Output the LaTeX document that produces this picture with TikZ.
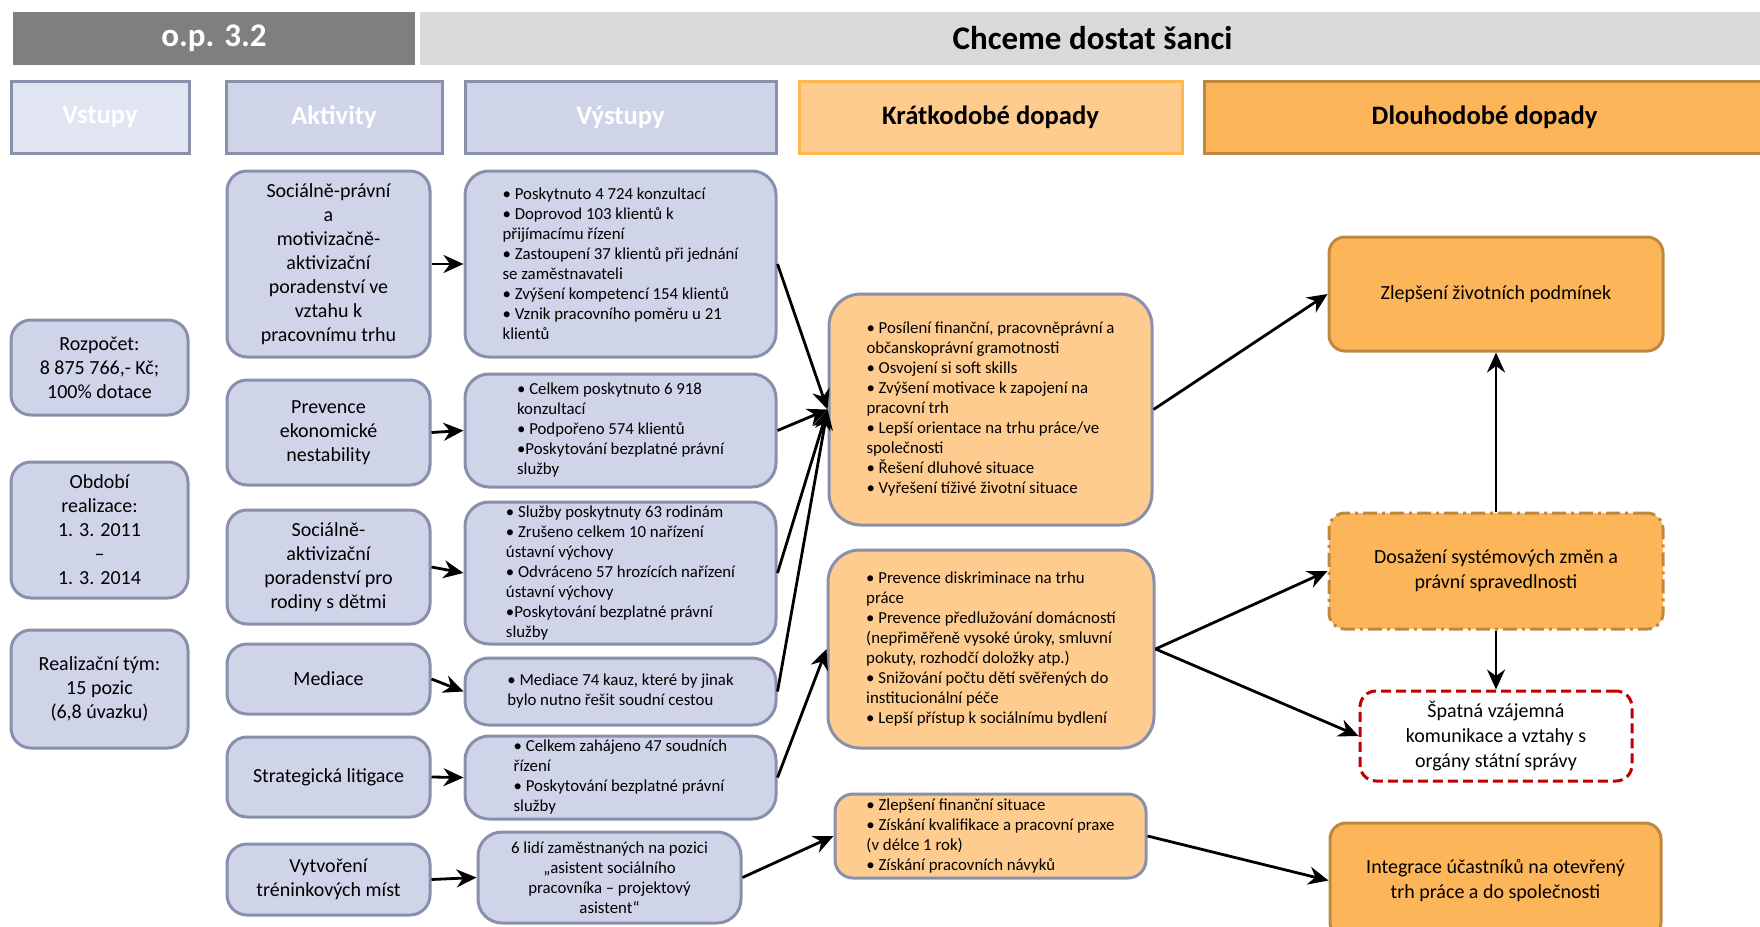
\documentclass[tikz,border=0pt]{standalone}
\usepackage{fontspec}
\setmainfont{Carlito}
\usepackage{xcolor}
\definecolor{plan-dark}{HTML}{7F7F7F}
\definecolor{plan-light}{HTML}{D9D9D9}
\definecolor{plan-blue}{HTML}{CFD4E9}
\definecolor{plan-paleblue}{HTML}{E1E4F1}
\definecolor{plan-edge}{HTML}{8990AB}
\definecolor{plan-peach}{HTML}{FFCC8F}
\definecolor{plan-peachedge}{HTML}{FFB850}
\definecolor{plan-orange}{HTML}{FDB55A}
\definecolor{plan-brown}{HTML}{C0873F}
\definecolor{plan-red}{HTML}{C00000}
\usepackage{tikz}
\usetikzlibrary{arrows.meta}

\tikzset{
    bar/.style={inner sep=0pt, minimum height=26.5pt, font=\fontsize{16.5}{20}\selectfont\bfseries},
    headbox/.style={draw, line width=1.5pt, inner sep=0pt, minimum height=36pt, font=\fontsize{13.3}{16}\selectfont\bfseries},
    inbox/.style={draw=plan-edge, fill=plan-blue, line width=1.5pt, rounded corners=10pt, align=center, inner sep=0pt, font=\fontsize{10}{12}\selectfont},
    listbox/.style={inbox, align=left, rounded corners=12pt, font=\fontsize{8.4}{10}\selectfont},
    shortbox/.style={listbox, fill=plan-peach, rounded corners=16pt},
    longbox/.style={draw=plan-brown, fill=plan-orange, line width=1.5pt, rounded corners=8pt, align=center, inner sep=0pt, font=\fontsize{10}{12.5}\selectfont},
    arr/.style={-{Stealth[length=10pt,width=9pt]}, line width=1.4pt}
}

\begin{document}
\begin{tikzpicture}[x=0.5pt, y=-0.5pt]

    % Page
    \useasboundingbox (0, 0) rectangle (1760, 926);

    % Title bars
    \node[bar, fill=plan-dark, text=white, minimum width=201pt] (op) at (214, 38) {o.p. 3.2};
    \node[bar, fill=plan-light, minimum width=672.5pt] (title) at (1092.5, 38) {Chceme dostat šanci};

    % Column heads
    \node[headbox, draw=plan-edge, fill=plan-paleblue, text=white, minimum width=89pt] (vstupy) at (100, 117) {Vstupy};
    \node[headbox, draw=plan-edge, fill=plan-blue, text=white, minimum width=108pt] (aktivity) at (334, 117) {Aktivity};
    \node[headbox, draw=plan-edge, fill=plan-blue, text=white, minimum width=155.5pt] (vystupy) at (620.5, 117) {Výstupy};
    \node[headbox, draw=plan-peachedge, fill=plan-peach, minimum width=191.5pt] (kratke) at (990.5, 117) {Krátkodobé dopady};
    \node[headbox, draw=plan-brown, fill=plan-orange, minimum width=280.5pt] (dlouhe) at (1484.5, 117) {Dlouhodobé dopady};

    % Inputs
    \node[inbox, minimum width=88.5pt, minimum height=47.5pt] (rozpocet) at (99.5, 367.5) {Rozpočet:\\8 875 766,- Kč;\\100\% dotace};
    \node[inbox, minimum width=88.5pt, minimum height=68pt] (obdobi) at (99.5, 530) {Období\\realizace:\\1. 3. 2011\\–\\1. 3. 2014};
    \node[inbox, minimum width=88.5pt, minimum height=59pt] (tym) at (99.5, 689) {Realizační tým:\\15 pozic\\(6,8 úvazku)};

    % Activities
    \node[inbox, minimum width=101.5pt, minimum height=93pt] (a1) at (328.5, 264) {Sociálně-právní\\a\\motivizačně-\\aktivizační\\poradenství ve\\vztahu k\\pracovnímu trhu};
    \node[inbox, minimum width=101.5pt, minimum height=52.5pt] (a2) at (328.5, 432.5) {Prevence\\ekonomické\\nestability};
    \node[inbox, minimum width=101.5pt, minimum height=57pt] (a3) at (328.5, 567) {Sociálně-\\aktivizační\\poradenství pro\\rodiny s dětmi};
    \node[inbox, minimum width=101.5pt, minimum height=35pt] (a4) at (328.5, 679) {Mediace};
    \node[inbox, minimum width=101.5pt, minimum height=40pt] (a5) at (328.5, 777) {Strategická litigace};
    \node[inbox, minimum width=101.5pt, minimum height=35.5pt] (a6) at (328.5, 879.5) {Vytvoření\\tréninkových míst};

    % Outputs
    \node[listbox, minimum width=155.5pt, minimum height=93pt] (o1) at (620.5, 264) {• Poskytnuto 4 724 konzultací\\• Doprovod 103 klientů k\\přijímacímu řízení\\• Zastoupení 37 klientů při jednání\\se zaměstnavateli\\• Zvýšení kompetencí 154 klientů\\• Vznik pracovního poměru u 21\\klientů};
    \node[listbox, minimum width=155.5pt, minimum height=56.5pt] (o2) at (620.5, 430.5) {• Celkem poskytnuto 6 918\\konzultací\\• Podpořeno 574 klientů\\•Poskytování bezplatné právní\\služby};
    \node[listbox, minimum width=155.5pt, minimum height=71pt] (o3) at (620.5, 573) {• Služby poskytnuty 63 rodinám\\• Zrušeno celkem 10 nařízení\\ústavní výchovy\\• Odvráceno 57 hrozících nařízení\\ústavní výchovy\\•Poskytování bezplatné právní\\služby};
    \node[listbox, minimum width=155.5pt, minimum height=33.5pt] (o4) at (620.5, 691.5) {• Mediace 74 kauz, které by jinak\\bylo nutno řešit soudní cestou};
    \node[listbox, minimum width=155.5pt, minimum height=41.5pt] (o5) at (620.5, 777.5) {• Celkem zahájeno 47 soudních\\řízení\\• Poskytování bezplatné právní\\služby};
    \node[listbox, align=center, minimum width=131.5pt, minimum height=45.5pt] (o6) at (609.5, 877.5) {6 lidí zaměstnaných na pozici\\„asistent sociálního\\pracovníka – projektový\\asistent“};

    % Short term
    \node[shortbox, minimum width=161.5pt, minimum height=115.5pt] (s1) at (990.5, 409.5) {• Posílení finanční, pracovněprávní a\\občanskoprávní gramotnosti\\• Osvojení si soft skills\\• Zvýšení motivace k zapojení na\\pracovní trh\\• Lepší orientace na trhu práce/ve\\společnosti\\• Řešení dluhové situace\\• Vyřešení tíživé životní situace};
    \node[shortbox, minimum width=163pt, minimum height=99pt] (s2) at (991, 649) {• Prevence diskriminace na trhu\\práce\\• Prevence předlužování domácností\\(nepřiměřeně vysoké úroky, smluvní\\pokuty, rozhodčí doložky atp.)\\• Snižování počtu dětí svěřených do\\institucionální péče\\• Lepší přístup k sociálnímu bydlení};
    \node[shortbox, rounded corners=9pt, minimum width=155.5pt, minimum height=42pt] (s3) at (990.5, 836) {• Zlepšení finanční situace\\• Získání kvalifikace a pracovní praxe\\(v délce 1 rok)\\• Získání pracovních návyků};

    % Long term
    \node[longbox, minimum width=167pt, minimum height=57pt] (l1) at (1496, 294) {Zlepšení životních podmínek};
    \node[longbox, dash pattern=on 7pt off 2.5pt on 1.5pt off 2.5pt, minimum width=167pt, minimum height=58pt] (l2) at (1496, 571) {Dosažení systémových změn a\\právní spravedlnosti};
    \node[longbox, draw=plan-red, fill=white, dash pattern=on 5pt off 2.5pt, minimum width=136pt, minimum height=45pt] (l3) at (1496, 736) {Špatná vzájemná\\komunikace a vztahy s\\orgány státní správy};
    \node[longbox, minimum width=165.5pt, minimum height=57.5pt] (l4) at (1495.5, 880.5) {Integrace účastníků na otevřený\\trh práce a do společnosti};

    % Activities to outputs
    \draw[arr] (a1.east) -- (o1.west);
    \draw[arr] (a2.east) -- (o2.west);
    \draw[arr] (a3.east) -- (o3.west);
    \draw[arr] (a4.east) -- (o4.west);
    \draw[arr] (a5.east) -- (o5.west);
    \draw[arr] (a6.east) -- (o6.west);

    % Outputs to short term
    \draw[arr] (o1.east) -- (s1.west);
    \draw[arr] (o2.east) -- (s1.west);
    \draw[arr] (o3.east) -- (s1.west);
    \draw[arr] (o4.east) -- (s1.west);
    \draw[arr] (o5.east) -- (s2.west);
    \draw[arr] (o6.east) -- (s3.west);

    % Short term to long term
    \draw[arr] (s1.east) -- (l1.west);
    \draw[arr] (s2.east) -- (l2.west);
    \draw[arr] (s2.east) -- (l3.west);
    \draw[arr] (s3.east) -- (l4.west);
    \draw[arr] (l2.north) -- (l1.south);
    \draw[arr] (l2.south) -- (l3.north);

\end{tikzpicture}
\end{document}
